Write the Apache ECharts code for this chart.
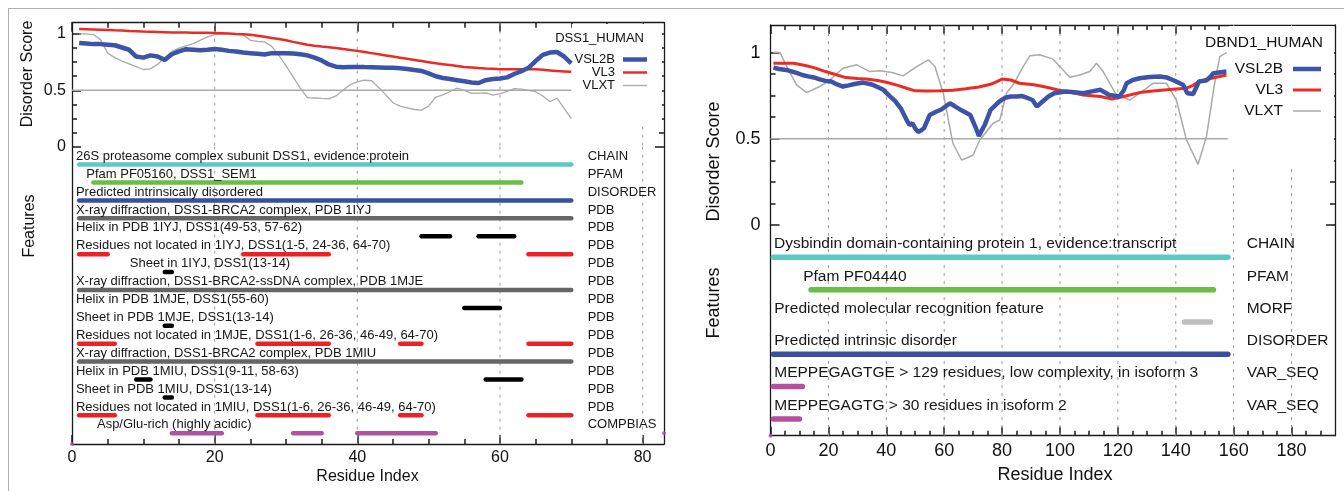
<!DOCTYPE html>
<html><head><meta charset="utf-8">
<script src="https://cdn.jsdelivr.net/npm/echarts@6/dist/echarts.min.js"></script>
<style>html,body{margin:0;padding:0;background:#fff}#c{width:1344px;height:491px}</style>
</head><body><div id="c"></div><script>
const FONT = "'Liberation Sans', Arial, Helvetica, sans-serif";

// ---------------- DSS1_HUMAN (left panel) ----------------
const dssLength = 70;
const dssVsl2b = [0.92,0.915,0.91,0.91,0.905,0.90,0.88,0.86,0.80,0.79,
  0.81,0.80,0.77,0.82,0.845,0.865,0.86,0.855,0.86,0.867,
  0.86,0.85,0.845,0.835,0.83,0.825,0.818,0.83,0.83,0.828,
  0.826,0.82,0.81,0.79,0.765,0.73,0.71,0.705,0.708,0.708,
  0.706,0.705,0.703,0.70,0.70,0.695,0.69,0.68,0.672,0.65,
  0.625,0.61,0.60,0.59,0.58,0.57,0.565,0.59,0.60,0.605,
  0.615,0.645,0.67,0.70,0.76,0.815,0.835,0.84,0.80,0.74];
const dssVl3 = [1.044,1.042,1.04,1.038,1.035,1.032,1.03,1.027,1.025,1.022,
  1.02,1.018,1.016,1.014,1.013,1.012,1.011,1.01,1.01,1.009,
  1.007,1.004,1.0,0.997,0.993,0.985,0.975,0.965,0.955,0.945,
  0.93,0.917,0.905,0.895,0.888,0.882,0.875,0.866,0.857,0.85,
  0.84,0.83,0.82,0.81,0.80,0.79,0.78,0.77,0.76,0.75,
  0.74,0.732,0.724,0.716,0.708,0.703,0.698,0.694,0.691,0.688,
  0.688,0.688,0.688,0.688,0.686,0.682,0.677,0.672,0.668,0.664];
const dssVlxt = [1.0,1.0,0.995,0.95,0.83,0.79,0.76,0.735,0.71,0.685,
  0.69,0.73,0.79,0.845,0.875,0.895,0.915,0.945,0.975,0.995,
  0.998,1.0,1.0,0.99,0.944,0.935,0.93,0.89,0.81,0.72,
  0.62,0.52,0.435,0.432,0.428,0.425,0.45,0.50,0.55,0.575,
  0.59,0.585,0.525,0.46,0.39,0.36,0.345,0.33,0.325,0.36,
  0.44,0.46,0.49,0.52,0.50,0.473,0.476,0.478,0.457,0.47,
  0.49,0.515,0.51,0.50,0.488,0.45,0.40,0.43,0.34,0.25];
const dssFeatureLabels = [
  '26S proteasome complex subunit DSS1, evidence:protein',
  'Pfam PF05160, DSS1_SEM1',
  'Predicted intrinsically disordered',
  'X-ray diffraction, DSS1-BRCA2 complex, PDB 1IYJ',
  'Helix in PDB 1IYJ, DSS1(49-53, 57-62)',
  'Residues not located in 1IYJ, DSS1(1-5, 24-36, 64-70)',
  'Sheet in 1IYJ, DSS1(13-14)',
  'X-ray diffraction, DSS1-BRCA2-ssDNA complex, PDB 1MJE',
  'Helix in PDB 1MJE, DSS1(55-60)',
  'Sheet in PDB 1MJE, DSS1(13-14)',
  'Residues not located in 1MJE, DSS1(1-6, 26-36, 46-49, 64-70)',
  'X-ray diffraction, DSS1-BRCA2 complex, PDB 1MIU',
  'Helix in PDB 1MIU, DSS1(9-11, 58-63)',
  'Sheet in PDB 1MIU, DSS1(13-14)',
  'Residues not located in 1MIU, DSS1(1-6, 26-36, 46-49, 64-70)',
  'Asp/Glu-rich (highly acidic)'];
const dssFeatureTypes = ['CHAIN','PFAM','DISORDER','PDB','PDB','PDB','PDB','PDB','PDB','PDB','PDB','PDB','PDB','PDB','PDB','COMPBIAS'];
const dssLabelAt = [0.55,2,0.55,0.55,0.55,0.55,8.1,0.55,0.55,0.55,0.55,0.55,0.55,0.55,0.55,3.5];
// [row, start residue, end residue, kind]
const dssSegments = [
  [0,1,70,'chain'],[1,3,63,'pfam'],[2,1,70,'disorder'],[3,1,70,'pdb'],
  [4,49,53,'ss'],[4,57,62,'ss'],
  [5,1,5,'missing'],[5,24,36,'missing'],[5,64,70,'missing'],
  [6,13,14,'ss'],[7,1,70,'pdb'],[8,55,60,'ss'],[9,13,14,'ss'],
  [10,1,6,'missing'],[10,26,36,'missing'],[10,46,49,'missing'],[10,64,70,'missing'],
  [11,1,70,'pdb'],[12,9,11,'ss'],[12,58,63,'ss'],[13,13,14,'ss'],
  [14,1,6,'missing'],[14,26,36,'missing'],[14,46,49,'missing'],[14,64,70,'missing'],
  [15,14,21,'compbias'],[15,31,35,'compbias'],[15,40,51,'compbias']];
const dssMarks = [[0,15.6],[83,15]];
const dssMajorX = [0,20,40,60,80];
const dssMinorX = [5,10,15,25,30,35,45,50,55,65,70,75];

// ---------------- DBND1_HUMAN (right panel) ----------------
const dbndLength = 158;
const dbndVsl2b = [[1,0.913],[3,0.905],[6,0.897],[9,0.882],[11,0.87],[13,0.862],[15,0.856],[17,0.845],[19,0.836],[21,0.832],[23,0.815],[25,0.803],[27,0.81],[29,0.818],[32,0.826],[35,0.815],[37,0.8],[39,0.784],[41,0.75],[43,0.72],[45,0.677],[47,0.61],[48,0.58],[49,0.59],[50,0.56],[51,0.54],[52,0.548],[53,0.561],[55,0.638],[57,0.655],[59,0.67],[62,0.706],[64,0.685],[66,0.665],[69,0.638],[71,0.56],[72,0.517],[73,0.55],[74,0.58],[76,0.667],[78,0.7],[79,0.716],[81,0.738],[83,0.745],[85,0.745],[87,0.748],[89,0.735],[90.5,0.725],[92,0.687],[94,0.716],[96,0.745],[98,0.764],[102,0.774],[105,0.77],[108,0.764],[111,0.775],[114,0.784],[117,0.754],[120.5,0.745],[122,0.78],[123,0.822],[125,0.84],[127.5,0.851],[131,0.858],[134.5,0.861],[137,0.855],[139,0.841],[142.5,0.813],[144,0.764],[146,0.76],[148,0.832],[150.5,0.838],[152,0.86],[153,0.88],[157.5,0.89]];
const dbndVl3 = [[1,0.938],[8,0.938],[12,0.925],[15,0.913],[19,0.89],[23,0.87],[26,0.855],[30,0.85],[33,0.847],[37,0.838],[40,0.828],[44,0.81],[47,0.793],[50,0.778],[54,0.777],[58.5,0.778],[63,0.782],[67.5,0.79],[72,0.8],[76,0.816],[78,0.83],[80,0.847],[83,0.841],[86,0.822],[91,0.813],[95,0.8],[99,0.784],[104,0.768],[108,0.754],[114,0.745],[118,0.73],[122,0.745],[127.5,0.768],[132,0.777],[137,0.784],[143.5,0.793],[146,0.81],[148,0.832],[152,0.85],[157.5,0.87]];
const dbndVlxt = [[1,1.0],[3.3,1.0],[5.6,0.919],[9,0.813],[12.5,0.768],[17,0.803],[20.5,0.841],[25,0.909],[29.8,0.929],[34.3,0.89],[37.8,0.895],[42,0.885],[45.8,0.865],[50.5,0.919],[54.5,0.958],[56.8,0.919],[59.7,0.764],[63,0.474],[66,0.377],[68,0.39],[70,0.406],[72.3,0.493],[76.9,0.59],[79.2,0.609],[81.5,0.764],[83.8,0.813],[87.3,0.919],[89.6,0.981],[93,0.987],[97.6,0.962],[103.4,0.857],[106.8,0.87],[110.3,0.89],[112.6,0.938],[114.9,0.89],[119.5,0.754],[124.1,0.725],[127.5,0.764],[132.1,0.822],[136.8,0.822],[140.2,0.725],[143.7,0.493],[147.7,0.352],[150.6,0.513],[153.4,0.822],[155.2,0.977],[157.5,1.0]];
const dbndFeatureLabels = [
  'Dysbindin domain-containing protein 1, evidence:transcript',
  'Pfam PF04440',
  'Predicted molecular recognition feature',
  'Predicted intrinsic disorder',
  'MEPPEGAGTGE > 129 residues, low complexity, in isoform 3',
  'MEPPEGAGTG > 30 residues in isoform 2'];
const dbndFeatureTypes = ['CHAIN','PFAM','MORF','DISORDER','VAR_SEQ','VAR_SEQ'];
const dbndLabelAt = [1.2,11.3,1.3,1.3,1.3,1.3];
const dbndSegments = [[0,1,158,'chain'],[1,14,153,'pfam'],[2,143,152,'morf'],[3,1,158,'disorder'],[4,1,11,'varseq'],[5,1,10,'varseq']];
const dbndMarks = [[0,5.52]];
const dbndMajorX = [0,20,40,60,80,100,120,140,160,180];
const dbndMinorX = [5,10,15,25,30,35,45,50,55,65,70,75,85,90,95,105,110,115,125,130,135,145,150,155,165,170,175,185,190];

const scoreMajorY = [0,0.5,1];
const scoreMinorY = [0.125,0.25,0.375,0.625,0.75,0.875];
const seriesNames = ['VSL2B','VL3','VLXT'];

// ---------------- styles ----------------
const KIND_COLORS = {chain:'#5ec8c3', pfam:'#6abd45', disorder:'#3a4fa3', pdb:'#666666', ss:'#000000',
  missing:'#ee2024', compbias:'#b3519f', morf:'#bdbdbd', varseq:'#b64fa0'};
const CURVE_COLORS = ['#3b54a8','#ee2a24','#aaaaaa'];
const AXIS_COLOR = '#1a1a1a';
const MAJOR_LEN = 9, MINOR_LEN = 5;

const panels = [
  {title:'DSS1_HUMAN', len:dssLength, curves:[dssVsl2b.map((v,i)=>[i+1,v]), dssVl3.map((v,i)=>[i+1,v]), dssVlxt.map((v,i)=>[i+1,v])],
   labels:dssFeatureLabels, types:dssFeatureTypes, labelAt:dssLabelAt, segs:dssSegments, marks:dssMarks,
   majorX:dssMajorX, minorX:dssMinorX, typeAt:72.3,
   left:72, top:22.7, width:592, scoreH:124, featH:297.3, xMax:83, yMax:1.1, rowMax:15.6,
   curveW:[4.5,2.5,1.3], barW:4.5, featFont:13, textOff:8.4, tickFont:16, labelMargin:6, xLabelMargin:6,
   legendRight:1344-647, legendTop:53, legendFont:13, legendItemW:24, legendGap:0, legendPad:3,
   titleX:644, titleY:38, coverRect:[572,24,90,101],
   yNamePos:[28,74], featNamePos:[29.5,226], xNamePos:[367.5,476.7], nameFont:16},
  {title:'DBND1_HUMAN', len:dbndLength, curves:[dbndVsl2b, dbndVl3, dbndVlxt],
   labels:dbndFeatureLabels, types:dbndFeatureTypes, labelAt:dbndLabelAt, segs:dbndSegments, marks:dbndMarks,
   majorX:dbndMajorX, minorX:dbndMinorX, typeAt:164.5,
   left:770.5, top:25, width:564.5, scoreH:200, featH:210.7, xMax:195, yMax:1.16, rowMax:5.52,
   curveW:[4.5,3,1.5], barW:5.5, featFont:15.5, textOff:13.4, tickFont:18, labelMargin:10, xLabelMargin:6,
   legendRight:1344-1321, legendTop:61, legendFont:15.5, legendItemW:28, legendGap:5, legendPad:5,
   titleX:1323, titleY:42.7, coverRect:[1229,26,105,142],
   yNamePos:[713.7,161.5], featNamePos:[714,303], xNamePos:[1055,475], nameFont:18}
];

const option = {animation:false, backgroundColor:'#fff', grid:[], xAxis:[], yAxis:[], series:[], legend:[], graphic:[]};
const graphics = [
  {type:'line', shape:{x1:8,y1:8.5,x2:1344,y2:8.5}, style:{stroke:'#b0b0b0', lineWidth:1}, z:5},
  {type:'line', shape:{x1:8.5,y1:8,x2:8.5,y2:491}, style:{stroke:'#b0b0b0', lineWidth:1}, z:5}
];

function txt(x,y,text,size,align,rot){
  return {type:'text', x:x, y:y, rotation:rot||0, z:6,
    style:{text:text, fill:'#111', fontSize:size, fontFamily:FONT, align:align, verticalAlign:'middle'}};
}
const axLine = () => ({show:true, onZero:false, lineStyle:{color:AXIS_COLOR, width:1.3}});
const tickStyle = () => ({color:AXIS_COLOR, width:1.5});

panels.forEach((p, k) => {
  const gi = option.grid.length, xi = option.xAxis.length, yi = option.yAxis.length;
  option.grid.push({left:p.left, top:p.top, width:p.width, height:p.scoreH});
  option.grid.push({left:p.left, top:p.top+p.scoreH, width:p.width, height:p.featH});
  const lbl = {show:true, color:'#111', fontSize:p.tickFont, fontFamily:FONT};
  option.xAxis.push(
    {gridIndex:gi, type:'value', position:'top', min:0, max:p.xMax, axisLine:axLine(),
      axisTick:{show:true, inside:true, length:MAJOR_LEN, customValues:p.majorX, lineStyle:tickStyle()},
      axisLabel:{show:false}, splitLine:{show:false}},
    {gridIndex:gi+1, type:'value', position:'bottom', min:0, max:p.xMax, axisLine:axLine(),
      axisTick:{show:true, inside:true, length:MAJOR_LEN, customValues:p.majorX, lineStyle:tickStyle()},
      splitLine:{show:false},
      axisLabel:Object.assign({}, lbl, {customValues:p.majorX, margin:p.xLabelMargin})},
    // minor-tick carriers
    {gridIndex:gi, type:'value', position:'top', min:0, max:p.xMax, axisLine:{show:false, onZero:false},
      axisTick:{show:true, inside:true, length:MINOR_LEN, customValues:p.minorX, lineStyle:tickStyle()},
      axisLabel:{show:false}, splitLine:{show:false}},
    {gridIndex:gi+1, type:'value', position:'bottom', min:0, max:p.xMax, axisLine:{show:false, onZero:false},
      axisTick:{show:true, inside:true, length:MINOR_LEN, customValues:p.minorX, lineStyle:tickStyle()},
      axisLabel:{show:false}, splitLine:{show:false}}
  );
  option.yAxis.push(
    {gridIndex:gi, type:'value', position:'left', min:0, max:p.yMax, axisLine:axLine(),
      axisTick:{show:true, inside:true, length:MAJOR_LEN, customValues:scoreMajorY, lineStyle:tickStyle()},
      splitLine:{show:false},
      axisLabel:Object.assign({}, lbl, {customValues:scoreMajorY, margin:p.labelMargin})},
    {gridIndex:gi, type:'value', position:'right', min:0, max:p.yMax, axisLine:axLine(),
      axisTick:{show:true, inside:true, length:MAJOR_LEN, customValues:scoreMajorY, lineStyle:tickStyle()},
      axisLabel:{show:false}, splitLine:{show:false}},
    {gridIndex:gi+1, type:'value', position:'left', inverse:true, min:-1, max:p.rowMax,
      axisLine:axLine(), axisTick:{show:false}, axisLabel:{show:false}, splitLine:{show:false}},
    {gridIndex:gi+1, type:'value', position:'right', inverse:true, min:-1, max:p.rowMax,
      axisLine:axLine(), axisTick:{show:false}, axisLabel:{show:false}, splitLine:{show:false}},
    {gridIndex:gi, type:'value', position:'left', min:0, max:p.yMax, axisLine:{show:false, onZero:false},
      axisTick:{show:true, inside:true, length:MINOR_LEN, customValues:scoreMinorY, lineStyle:tickStyle()},
      axisLabel:{show:false}, splitLine:{show:false}},
    {gridIndex:gi, type:'value', position:'right', min:0, max:p.yMax, axisLine:{show:false, onZero:false},
      axisTick:{show:true, inside:true, length:MINOR_LEN, customValues:scoreMinorY, lineStyle:tickStyle()},
      axisLabel:{show:false}, splitLine:{show:false}}
  );
  // dashed vertical grid lines (both grids)
  const gridLine = (xIdx, yIdx) => ({type:'custom', xAxisIndex:xIdx, yAxisIndex:yIdx, z:1, silent:true,
    data:p.majorX.filter(v=>v>0).map(v=>[v,0]),
    renderItem:(params, api)=>{
      const x = api.coord([api.value(0), 0])[0]; const cs = params.coordSys;
      return {type:'line', shape:{x1:x,y1:cs.y,x2:x,y2:cs.y+cs.height}, style:{stroke:'#9a9a9a', lineWidth:1, lineDash:[3,5]}};
    }});
  option.series.push(gridLine(xi, yi), gridLine(xi+1, yi+2));
  // 0.5 threshold line
  option.series.push({type:'line', xAxisIndex:xi, yAxisIndex:yi, z:2, silent:true, symbol:'none',
    data:[[0,0.5],[p.len,0.5]], lineStyle:{color:'#aaaaaa', width:1.5}});
  // curves
  p.curves.forEach((d, j) => option.series.push({type:'line', name:seriesNames[j], xAxisIndex:xi, yAxisIndex:yi, z:3 + (2-j),
    symbol:'none', silent:true, data:d, color:CURVE_COLORS[j], lineStyle:{color:CURVE_COLORS[j], width:p.curveW[j]}}));
  // feature bars
  option.series.push({type:'custom', xAxisIndex:xi+1, yAxisIndex:yi+2, z:3, silent:true,
    data:p.segs.map(s=>({value:[s[1], s[0], s[2]], itemStyle:{color:KIND_COLORS[s[3]]}})),
    renderItem:(params, api)=>{
      const a = api.coord([api.value(0), api.value(1)]); const b = api.coord([api.value(2), api.value(1)]);
      return {type:'line', shape:{x1:a[0],y1:a[1],x2:b[0],y2:b[1]}, style:{stroke:api.visual('color'), lineWidth:p.barW, lineCap:'round'}};
    }});
  // feature labels
  const textSeries = (positions, texts) => ({type:'custom', xAxisIndex:xi+1, yAxisIndex:yi+2, z:4, silent:true,
    data:positions,
    renderItem:(params, api)=>{
      const c = api.coord([api.value(0), api.value(1)]);
      return {type:'text', x:c[0], y:c[1]-p.textOff,
        style:{text:texts[params.dataIndex], fill:'#161616', fontSize:p.featFont, fontFamily:FONT, align:'left', verticalAlign:'middle'}};
    }});
  option.series.push(textSeries(p.labels.map((t,i)=>[p.labelAt[i], i]), p.labels));
  option.series.push(textSeries(p.types.map((t,i)=>[p.typeAt, i]), p.types));
  // small marker dots
  option.series.push({type:'scatter', xAxisIndex:xi+1, yAxisIndex:yi+2, z:4, silent:true, symbolSize:4,
    data:p.marks, itemStyle:{color:'#b3519f'}});
  // legend with plain line-sample icons
  option.legend.push({orient:'vertical', align:'right', right:p.legendRight, top:p.legendTop,
    data:seriesNames.map((n,j)=>({name:n, icon:'path://M0,0L40,0L40,' + (p.curveW[j]*40/p.legendItemW) + 'L0,' + (p.curveW[j]*40/p.legendItemW) + 'Z'})),
    itemWidth:p.legendItemW, itemHeight:10, itemGap:p.legendGap, padding:0, selectedMode:false,
    textStyle:{fontSize:p.legendFont, fontFamily:FONT, color:'#111', padding:[0,p.legendPad,0,0]}});
  // white legend box hiding grid lines
  graphics.push({type:'rect', shape:{x:p.coverRect[0], y:p.coverRect[1], width:p.coverRect[2], height:p.coverRect[3]},
    style:{fill:'#ffffff'}, z:2});
  graphics.push(txt(p.titleX, p.titleY, p.title, p.legendFont, 'right'));
  graphics.push(txt(p.yNamePos[0], p.yNamePos[1], 'Disorder Score', p.nameFont, 'center', Math.PI/2));
  graphics.push(txt(p.featNamePos[0], p.featNamePos[1], 'Features', p.nameFont, 'center', Math.PI/2));
  graphics.push(txt(p.xNamePos[0], p.xNamePos[1], 'Residue Index', p.nameFont, 'center'));
});
option.graphic = [{elements:graphics}];

const chart = echarts.init(document.getElementById('c'), null, {renderer:'canvas'});
chart.setOption(option);
</script></body></html>
